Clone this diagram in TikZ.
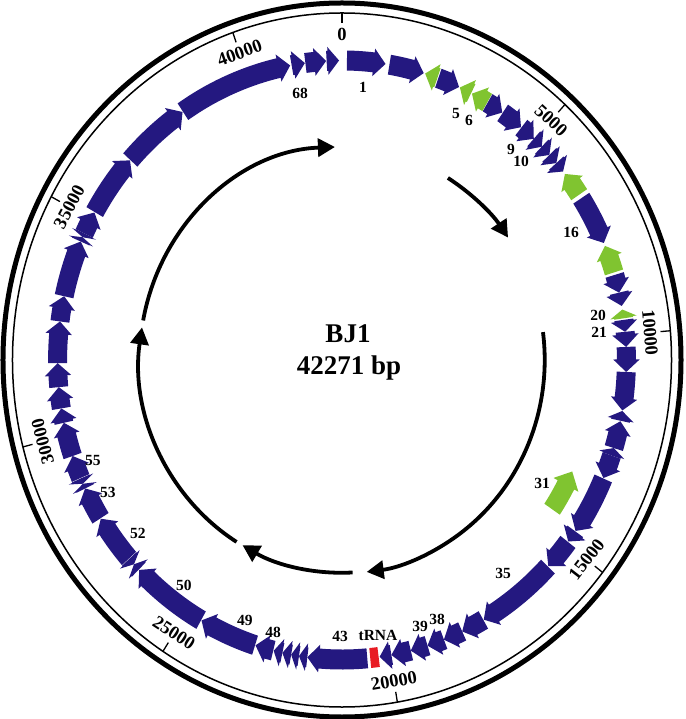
\documentclass[tikz,border=0pt]{standalone}
\usepackage{fontspec}
\setmainfont{Liberation Serif}
\usetikzlibrary{arrows.meta}
\definecolor{gblue}{RGB}{36,24,128}
\definecolor{ggreen}{RGB}{128,196,48}
\definecolor{gred}{RGB}{232,28,36}
\def\gRi{0.811}
\def\gRo{0.867}
\def\gRm{0.839}
\def\gHi{0.800}
\def\gHo{0.878}
\def\gHL{2.4}
\newcommand\gene[3]{%
  \pgfmathsetmacro\gA{90-(#1)}%
  \pgfmathsetmacro\gB{90-(#2)}%
  \pgfmathsetmacro\gL{abs((#2)-(#1))}%
  \pgfmathsetmacro\gH{min(\gHL,0.9*\gL)}%
  \pgfmathsetmacro\gC{\gB+\gH*((#2)-(#1))/\gL}%
  \fill[#3] (\gA:\gRo) arc[start angle=\gA, end angle=\gC, radius=\gRo]
     -- (\gC:\gHo) -- (\gB:\gRm) -- (\gC:\gHi) -- (\gC:\gRi)
     arc[start angle=\gC, end angle=\gA, radius=\gRi] -- cycle;
}
\newcommand\block[3]{%
  \pgfmathsetmacro\gA{90-(#1)}%
  \pgfmathsetmacro\gB{90-(#2)}%
  \fill[#3] (\gA:\gRo) arc[start angle=\gA, end angle=\gB, radius=\gRo]
     -- (\gB:\gRi) arc[start angle=\gB, end angle=\gA, radius=\gRi] -- cycle;
}
\tikzset{
  genelab/.style={font=\fontsize{15.5}{18}\selectfont\bfseries, inner sep=0pt},
  ticklab/.style={font=\fontsize{18.5}{20}\selectfont\bfseries, inner sep=0pt},
  ctrlab/.style={font=\fontsize{27}{30}\selectfont\bfseries, inner sep=0pt},
  cyclearrow/.style={line width=3.8pt, -{Triangle[length=17pt,width=18pt]}},
}
\begin{document}
\begin{tikzpicture}[x=1pt,y=1pt]
\useasboundingbox (-342,-359) rectangle (343,360);
\begin{scope}[xscale=339,yscale=357]
  % scale circles
  \draw[line width=5pt] (0,0) circle[radius=1];
  \draw[line width=1.5pt] (0,0) circle[radius=0.972];
  \foreach \k/\lab/\rot in {0/0/0, 1/5000/-42.58, 2/10000/-85.16, 3/15000/52.25, 4/20000/9.67, 5/25000/-32.91, 6/30000/104.51, 7/35000/61.93, 8/40000/19.35}{
    \draw[line width=1.3pt] ({90-\k*42.58182}:0.972) -- ({90-\k*42.58182}:0.943);
    \node[ticklab, rotate=\rot] (t\k) at ({90-\k*42.58182}:0.912) {\lab};
  }
  % genes
  \gene{1.0}{8.8}{gblue}
  \gene{9.6}{16.7}{gblue}
  \gene{19.6}{17.0}{ggreen}
  \gene{19.8}{24.3}{gblue}
  \gene{27.0}{24.5}{ggreen}
  \gene{30.7}{27.2}{ggreen}
  \gene{30.8}{34.3}{gblue}
  \gene{34.4}{39.0}{gblue}
  \gene{39.1}{42.4}{gblue}
  \gene{42.4}{44.6}{gblue}
  \gene{44.6}{46.8}{gblue}
  \gene{46.8}{48.9}{gblue}
  \gene{48.9}{51.0}{gblue}
  \gene{56.5}{51.6}{ggreen}
  \gene{57.3}{67.0}{gblue}
  \gene{73.0}{67.6}{ggreen}
  \gene{73.5}{77.0}{gblue}
  \gene{77.0}{79.6}{gblue}
  \gene{82.0}{80.3}{ggreen}
  \gene{82.3}{84.6}{gblue}
  \gene{84.6}{87.5}{gblue}
  \gene{87.5}{92.3}{gblue}
  \gene{92.3}{99.7}{gblue}
  \gene{101.7}{99.8}{gblue}
  \gene{107.1}{101.8}{gblue}
  \gene{108.6}{107.1}{gblue}
  \gene{108.6}{113.2}{gblue}
  \gene{113.3}{124.8}{gblue}
  \gene{124.9}{127.3}{gblue}
  \gene{127.4}{133.5}{gblue}
  \gene{133.6}{150.1}{gblue}
  \gene{150.2}{155.0}{gblue}
  \gene{155.0}{159.0}{gblue}
  \gene{159.0}{162.5}{gblue}
  \gene{162.5}{166.0}{gblue}
  \gene{166.0}{170.0}{gblue}
  \gene{170.0}{172.4}{gblue}
  \block{172.6}{174.3}{gred}
  \gene{174.9}{187.0}{gblue}
  \gene{187.0}{188.7}{gblue}
  \gene{188.7}{190.3}{gblue}
  \gene{190.3}{192.1}{gblue}
  \gene{192.1}{193.9}{gblue}
  \gene{194.0}{197.7}{gblue}
  \gene{197.8}{209.6}{gblue}
  \gene{209.7}{225.5}{gblue}
  \gene{225.6}{227.0}{gblue}
  \gene{228.4}{227.0}{gblue}
  \gene{228.5}{238.0}{gblue}
  \gene{238.1}{244.6}{gblue}
  \gene{244.6}{245.6}{gblue}
  \gene{246.7}{245.6}{gblue}
  \gene{246.8}{251.3}{gblue}
  \gene{251.3}{257.9}{gblue}
  \gene{257.9}{260.7}{gblue}
  \gene{260.7}{264.8}{gblue}
  \gene{264.8}{269.4}{gblue}
  \gene{269.4}{277.4}{gblue}
  \gene{277.4}{282.3}{gblue}
  \gene{282.3}{293.3}{gblue}
  \gene{293.3}{294.2}{gblue}
  \gene{295.0}{294.2}{gblue}
  \gene{295.0}{299.5}{gblue}
  \gene{299.6}{311.8}{gblue}
  \gene{311.9}{325.9}{gblue}
  \gene{326.0}{349.5}{gblue}
  \gene{349.8}{352.5}{gblue}
  \gene{352.6}{356.8}{gblue}
  \gene{356.9}{359.4}{gblue}
  {\def\gRi{0.72}\def\gRo{0.775}\def\gRm{0.7475}\def\gHi{0.706}\def\gHo{0.789}\def\gHL{3.2}%
   \gene{124.0}{114.7}{ggreen}}
  % inner cycle arrows
  \draw[cyclearrow] (169.3:0.597) arc[start angle=169.3, end angle=92, radius=0.597];
  \draw[cyclearrow] (58.5:0.598) arc[start angle=58.5, end angle=35, radius=0.598];
  \draw[cyclearrow] (7.5:0.598) arc[start angle=7.5, end angle=-83, radius=0.598];
  \draw[cyclearrow] (-87:0.596) arc[start angle=-87, end angle=-119.5, radius=0.596];
  \draw[cyclearrow] (-121.4:0.597) arc[start angle=-121.4, end angle=-188.8, radius=0.597];
\end{scope}
% gene labels
\node[genelab] (g68) at (-42,267) {68};
\node[genelab] (g1) at (21,273) {1};
\node[genelab] (g5) at (114,246) {5};
\node[genelab] (g6) at (127,240) {6};
\node[genelab] (g9) at (169,211) {9};
\node[genelab] (g10) at (179,199) {10};
\node[genelab] (g16) at (229,128) {16};
\node[genelab] (g20) at (256,45) {20};
\node[genelab] (g21) at (257,28) {21};
\node[genelab] (g31) at (200,-123) {31};
\node[genelab] (g35) at (161,-213) {35};
\node[genelab] (g38) at (95,-259) {38};
\node[genelab] (g39) at (78,-266) {39};
\node[genelab] (gtrna) at (36,-275) {tRNA};
\node[genelab] (g43) at (-2,-276) {43};
\node[genelab] (g48) at (-69,-272) {48};
\node[genelab] (g49) at (-97,-260) {49};
\node[genelab] (g50) at (-158,-225) {50};
\node[genelab] (g52) at (-204,-173) {52};
\node[genelab] (g53) at (-234,-132) {53};
\node[genelab] (g55) at (-249,-101) {55};
% centre title
\node[ctrlab, anchor=base] (name) at (6,17) {BJ1};
\node[ctrlab, anchor=base] (size) at (7,-15) {42271 bp};
\end{tikzpicture}
\end{document}
